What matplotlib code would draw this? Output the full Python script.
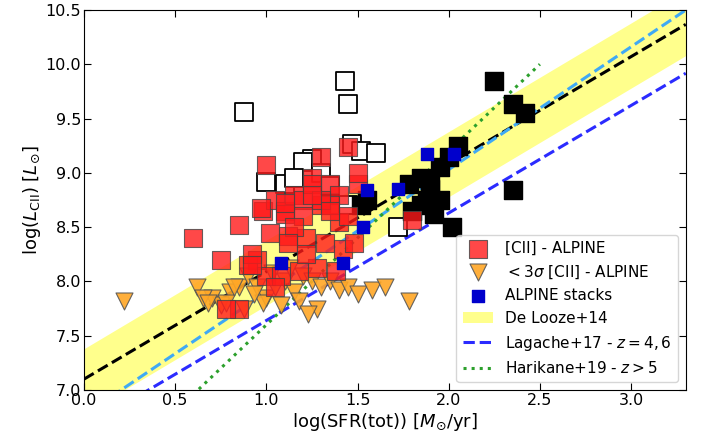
import numpy as np
import matplotlib
matplotlib.use("Agg")
import matplotlib.pyplot as plt

# ALPINE detections (red)
red_x = [0.6, 0.75, 0.85, 0.98, 1.0, 0.95, 1.05, 1.1, 1.15, 1.2, 1.25, 1.3, 1.35, 1.4, 1.45, 1.5,
         0.9, 1.0, 1.1, 1.2, 1.3, 1.4, 1.02, 1.12, 1.22, 1.32, 1.42, 1.15, 1.25, 1.35, 1.45, 1.08,
         0.85, 0.92, 0.78, 0.92, 1.05, 1.18, 1.28, 1.38, 1.48, 1.3, 1.12, 1.22, 1.5, 1.8, 1.25, 1.35, 0.97, 1.1]
red_y = [8.4, 8.2, 8.52, 8.65, 9.07, 8.2, 8.75, 8.65, 8.8, 8.75, 8.95, 9.15, 8.9, 8.8, 9.24, 8.9,
         8.15, 8.05, 8.62, 8.6, 8.7, 8.55, 8.45, 8.42, 8.4, 8.35, 8.3, 8.5, 8.9, 8.7, 8.6, 8.05,
         7.75, 8.25, 7.75, 8.15, 7.95, 8.1, 8.12, 8.1, 8.35, 8.75, 8.35, 8.25, 9.0, 8.57, 8.8, 8.65, 8.68, 8.72]
# 3-sigma upper limits (orange)
up_x = [0.22, 0.62, 0.7, 0.75, 0.8, 0.85, 0.9, 0.95, 1.0, 1.05, 1.1, 1.15, 1.2, 1.25, 1.3, 1.35, 1.4, 1.45, 1.5, 1.58, 1.65, 1.78,
        0.65, 0.78, 0.88, 0.98, 1.08, 1.18, 1.28, 0.68, 0.82, 0.93, 1.03, 1.13, 1.23]
up_y = [7.82, 7.95, 7.85, 7.78, 7.9, 7.95, 8.05, 7.95, 7.85, 7.95, 8.0, 7.9, 8.05, 8.0, 7.95, 8.0, 7.92, 7.95, 7.88, 7.92, 7.95, 7.82,
        7.85, 7.8, 7.75, 7.8, 7.78, 7.82, 7.75, 7.8, 7.95, 7.88, 8.08, 8.12, 7.7]
# stacks (blue)
st_x = [1.55, 1.72, 1.88, 2.03, 1.53, 1.08, 1.42]
st_y = [8.84, 8.85, 9.17, 9.17, 8.5, 8.17, 8.17]
# literature: open and filled black squares
open_x = [1.43, 1.45, 0.88, 1.47, 1.52, 1.6, 1.25, 1.2, 1.0, 1.1, 1.15, 1.3, 1.35, 1.45, 1.72]
open_y = [9.85, 9.63, 9.56, 9.27, 9.2, 9.18, 9.13, 9.1, 8.92, 8.9, 8.95, 9.0, 8.88, 8.7, 8.5]
blk_x = [2.25, 2.35, 2.42, 2.35, 2.05, 2.0, 1.95, 1.85, 1.9, 1.88, 1.85, 1.8, 1.92, 1.55, 1.52, 2.02, 1.9, 1.78, 1.95]
blk_y = [9.85, 9.63, 9.55, 8.84, 9.25, 9.15, 9.05, 8.95, 8.85, 8.75, 8.7, 8.65, 8.62, 8.75, 8.7, 8.5, 8.9, 8.9, 8.75]

fig = plt.figure(figsize=(7.08, 4.44), dpi=100)
ax = fig.add_axes([0.1186, 0.1216, 0.850, 0.856])
xx = np.linspace(0, 3.3, 100)
ax.fill_between(xx, xx + 7.08 - 0.3, xx + 7.08 + 0.3, color="#ffff80", alpha=0.9, lw=0, label="De Looze+14", zorder=1)
ax.plot(xx, 0.99 * xx + 7.1, "k--", lw=2.2, zorder=2)
ax.plot(xx, 1.13 * xx + 6.77, "--", color="#3fa9f5", lw=2.2, zorder=2)
ax.plot(xx, 0.99 * xx + 6.65, "--", color="#2b2bff", lw=2.2, label="Lagache+17 - $z=4,6$", zorder=2)
xh = np.linspace(0.63, 2.5, 50)
ax.plot(xh, 1.6 * xh + 6.0, ":", color="#2ca02c", lw=2.2, label="Harikane+19 - $z>5$", zorder=2)

ax.scatter(open_x, open_y, marker="s", s=170, facecolor="white", edgecolor="black", lw=1.3, zorder=3)
ax.scatter(blk_x, blk_y, marker="s", s=170, color="black", zorder=3)
ax.scatter(up_x, up_y, marker="v", s=150, color="#ffa726", edgecolor="#555555", lw=0.8, alpha=0.9, zorder=4,
           label=r"$< 3\sigma$ [CII] - ALPINE")
ax.scatter(red_x, red_y, marker="s", s=170, color="#ff1a1a", edgecolor="#444444", lw=0.8, alpha=0.8, zorder=4,
           label="[CII] - ALPINE")
ax.scatter(st_x, st_y, marker="s", s=70, color="#0000cc", zorder=5, label="ALPINE stacks")

h, l = ax.get_legend_handles_labels()
order = [l.index(k) for k in ["[CII] - ALPINE", r"$< 3\sigma$ [CII] - ALPINE", "ALPINE stacks", "De Looze+14",
                              "Lagache+17 - $z=4,6$", "Harikane+19 - $z>5$"]]
ax.legend([h[i] for i in order], [l[i] for i in order], loc="lower right", fontsize=11, framealpha=0.8)

ax.set_xlim(0, 3.3)
ax.set_ylim(7.0, 10.5)
ax.set_xticks(np.arange(0, 3.01, 0.5))
ax.set_yticks(np.arange(7.0, 10.51, 0.5))
ax.tick_params(direction="in", top=True, right=True, labelsize=11.5, length=5, pad=2)
ax.set_xlabel(r"log(SFR(tot)) [$M_{\odot}$/yr]", fontsize=13, labelpad=2)
ax.set_ylabel(r"log($L_{\rm CII}$) [$L_{\odot}$]", fontsize=13, labelpad=2)
fig.savefig("out.png", dpi=100)
